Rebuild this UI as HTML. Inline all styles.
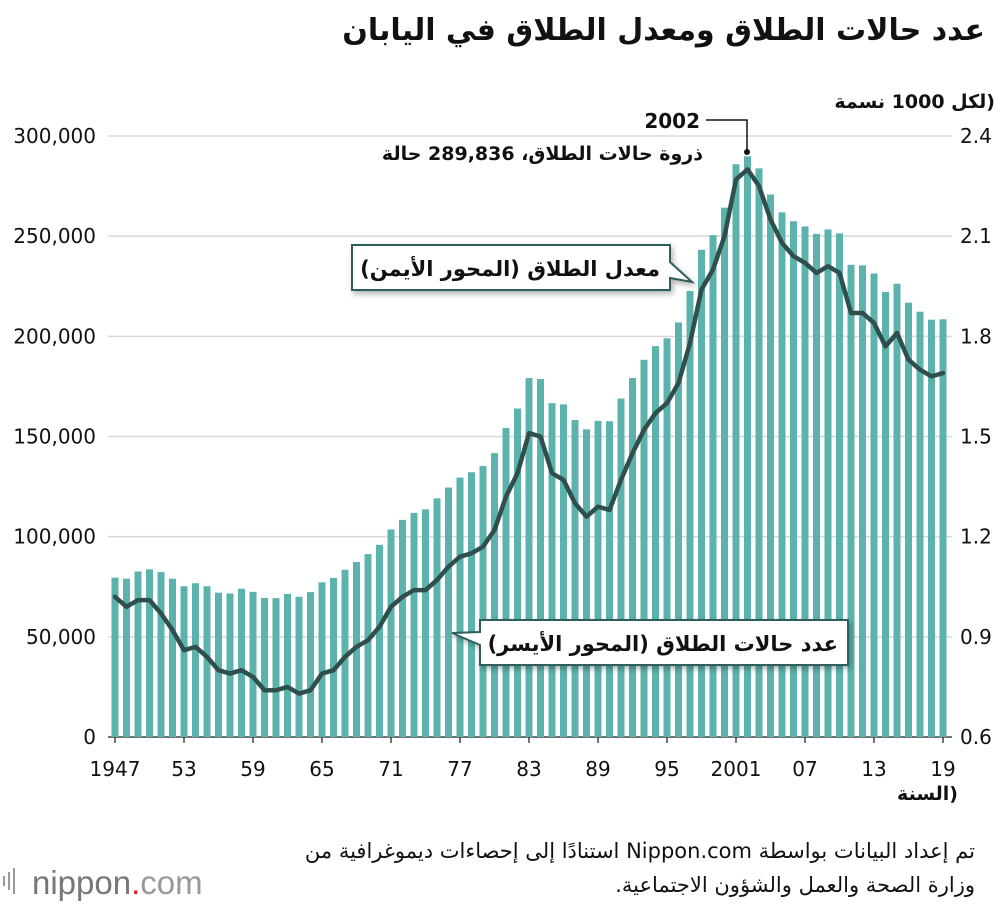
<!DOCTYPE html>
<html><head><meta charset="utf-8">
<style>
body{margin:0;background:#fff;}
svg{display:block;font-family:"DejaVu Sans","Liberation Sans",sans-serif;}
.rtl{direction:rtl;unicode-bidi:embed;text-anchor:start;}
</style></head>
<body>
<svg id="chart" width="1000" height="904" viewBox="0 0 1000 904">
<defs>
<filter id="sh" x="-10%" y="-20%" width="130%" height="160%"><feDropShadow dx="2" dy="3" stdDeviation="3" flood-color="#000" flood-opacity="0.3"/></filter>
</defs>
<text x="985" y="40" class="rtl" font-size="30" font-weight="bold" fill="#111">عدد حالات الطلاق ومعدل الطلاق في اليابان</text>
<text x="995" y="108" class="rtl" font-size="19" font-weight="bold" fill="#111">(لكل 1000 نسمة</text>
<g id="grid"></g>
<g id="bars"></g>
<g id="line"></g>
<g id="axes"></g>
<text x="700" y="128" text-anchor="end" font-size="20" font-weight="bold" fill="#111">2002</text>
<polyline points="706,120 747,120 747,152" fill="none" stroke="#111" stroke-width="1.5"/>
<circle cx="747" cy="152" r="3" fill="#111"/>
<text x="703" y="160" class="rtl" font-size="19" font-weight="bold" fill="#111">ذروة حالات الطلاق، 289,836 حالة</text>
<g filter="url(#sh)">
<path d="M352,245 H670 V262 L692,282 L670,278 V290 H352 Z" fill="#fff" stroke="#2d5e5c" stroke-width="2"/>
</g>
<text x="660" y="276" class="rtl" font-size="21" font-weight="bold" fill="#111">معدل الطلاق (المحور الأيمن)</text>
<g filter="url(#sh)">
<path d="M480,620 H848 V665 H480 V645 L452,633 L480,632 Z" fill="#fff" stroke="#2d5e5c" stroke-width="2"/>
</g>
<text x="838" y="651" class="rtl" font-size="21" font-weight="bold" fill="#111">عدد حالات الطلاق (المحور الأيسر)</text>
<text x="958" y="800" class="rtl" font-size="19" font-weight="bold" fill="#111">(السنة</text>
<text x="975" y="858" class="rtl" font-size="21" fill="#111">تم إعداد البيانات بواسطة Nippon.com استنادًا إلى إحصاءات ديموغرافية من</text>
<text x="975" y="892" class="rtl" font-size="21" fill="#111">وزارة الصحة والعمل والشؤون الاجتماعية.</text>
<g>
<rect x="3" y="876" width="2" height="10" fill="#999"/><rect x="8" y="872" width="2" height="18" fill="#999"/><rect x="13" y="868" width="2" height="26" fill="#999"/>
<text x="32" y="894" font-family="Liberation Sans,sans-serif" font-size="33" fill="#777">nippon<tspan fill="#e0202a">.</tspan><tspan fill="#999">com</tspan></text>
</g>
</svg>
<script>
const startYear = 1947;
const counts = [79551,79032,82575,83689,82331,79021,75255,76759,75267,72040,71651,74004,72455,69410,69323,71394,69996,72306,77195,79432,83478,87327,91280,95937,103595,108382,111877,113622,119135,124512,129485,132146,135250,141689,154221,163980,179150,178746,166640,166054,158227,153600,157811,157608,168969,179191,188297,195106,199016,206955,222635,243183,250529,264246,285911,289836,283854,270804,261917,257475,254832,251136,253353,251378,235719,235406,231383,222107,226238,216798,212296,208333,208496];
const rates = [1.02,0.99,1.01,1.01,0.97,0.92,0.86,0.87,0.84,0.80,0.79,0.80,0.78,0.74,0.74,0.75,0.73,0.74,0.79,0.80,0.84,0.87,0.89,0.93,0.99,1.02,1.04,1.04,1.07,1.11,1.14,1.15,1.17,1.22,1.32,1.39,1.51,1.50,1.39,1.37,1.30,1.26,1.29,1.28,1.37,1.45,1.52,1.57,1.60,1.66,1.78,1.94,2.00,2.10,2.27,2.30,2.25,2.15,2.08,2.04,2.02,1.99,2.01,1.99,1.87,1.87,1.84,1.77,1.81,1.73,1.70,1.68,1.69];
const leftTicks = [0,50000,100000,150000,200000,250000,300000];
const leftTickLabels = ["0","50,000","100,000","150,000","200,000","250,000","300,000"];
const rightTicks = [0.6,0.9,1.2,1.5,1.8,2.1,2.4];
const rightTickLabels = ["0.6","0.9","1.2","1.5","1.8","2.1","2.4"];
const xTickYears = [1947,1953,1959,1965,1971,1977,1983,1989,1995,2001,2007,2013,2019];
const xTickLabels = ["1947","53","59","65","71","77","83","89","95","2001","07","13","19"];

const NS="http://www.w3.org/2000/svg";
const y0=737, y1=136;
const xS = i => 115 + i*11.5;
const yL = v => y0 - v/300000*(y0-y1);
const yR = r => y0 - (r-0.6)/1.8*(y0-y1);
function mk(tag, attrs, parent){const e=document.createElementNS(NS,tag);for(const k in attrs)e.setAttribute(k,attrs[k]);parent.appendChild(e);return e;}
const grid=document.getElementById('grid'), bars=document.getElementById('bars'), line=document.getElementById('line'), axes=document.getElementById('axes');
leftTicks.forEach((t,i)=>{
  const g=mk('line',{x1:108,x2:952,y1:yL(t),y2:yL(t),stroke:i===0?'#444':'#d8d8d8','stroke-width':1.5},grid);
  
  
  const tl=mk('text',{x:96,y:yL(t)+7,'text-anchor':'end','font-size':20,fill:'#111'},axes);
  tl.textContent=leftTickLabels[i];
  
  
});
rightTicks.forEach((t,i)=>{
  const tl=mk('text',{x:960,y:yR(t)+7,'font-size':20,fill:'#111'},axes);
  tl.textContent=rightTickLabels[i];
  
  
});
counts.forEach((c,i)=>{
  const b=mk('rect',{x:xS(i)-3.5,y:yL(c),width:7,height:y0-yL(c),fill:'#5cb3ad'},bars);
  
  
});
const pts=rates.map((r,i)=>xS(i)+','+yR(r)).join(' ');
const pl=mk('polyline',{points:pts,fill:'none',stroke:'#2f4f4c','stroke-width':4.5,'stroke-linejoin':'round','stroke-linecap':'round'},line);


xTickYears.forEach((yr,i)=>{
  const x=xS(yr-startYear);
  const tk=mk('line',{x1:x,x2:x,y1:y0,y2:y0+6,stroke:'#444','stroke-width':1.5},axes);
  
  
  const tl=mk('text',{x:x,y:776,'text-anchor':'middle','font-size':20,fill:'#111'},axes);
  tl.textContent=xTickLabels[i];
  
  
});
</script>
</body></html>
